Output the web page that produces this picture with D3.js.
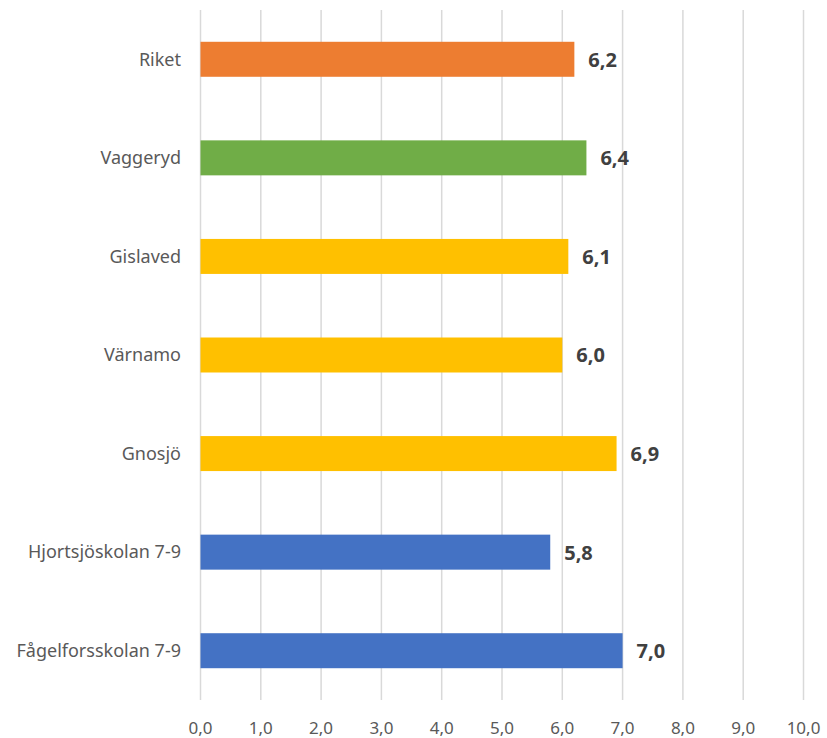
<!DOCTYPE html>
<html>
<head>
<meta charset="utf-8">
<script src="https://cdn.jsdelivr.net/npm/d3@7"></script>
<style>
  body { margin: 0; background: #fff; }
  text { font-family: "Noto Sans", "Open Sans", sans-serif; }
</style>
</head>
<body>
<svg id="chart" width="827" height="738"></svg>
<script>
const categories = ["Riket", "Vaggeryd", "Gislaved", "Värnamo", "Gnosjö", "Hjortsjöskolan 7-9", "Fågelforsskolan 7-9"];
const values = [6.2, 6.4, 6.1, 6.0, 6.9, 5.8, 7.0];
const barColors = ["#ed7d31", "#70ad47", "#ffc000", "#ffc000", "#ffc000", "#4472c4", "#4472c4"];
const ticks = [0, 1, 2, 3, 4, 5, 6, 7, 8, 9, 10];

const svg = d3.select("#chart");
const fmt = v => d3.format(".1f")(v).replace(".", ",");

const x = d3.scaleLinear().domain([0, 10]).range([200.5, 803.5]);
const y = d3.scaleBand().domain(categories).range([10, 700]).paddingInner(0.645).paddingOuter(0.3225);

// gridlines
svg.append("g").selectAll("line")
    .data(ticks)
    .enter()
    .append("line")
    .attr("x1", d => x(d))
    .attr("x2", d => x(d))
    .attr("y1", 10)
    .attr("y2", 700)
    .attr("stroke", "#d9d9d9")
    .attr("stroke-width", 1.5);

// x tick labels
svg.append("g").selectAll("text")
    .data(ticks)
    .enter()
    .append("text")
    .attr("x", d => x(d))
    .attr("y", 734)
    .attr("text-anchor", "middle")
    .attr("font-size", 17)
    .attr("fill", "#595959")
    .text(d => fmt(d));

// bars
svg.append("g").selectAll("rect")
    .data(categories)
    .enter()
    .append("rect")
    .attr("x", x(0))
    .attr("y", d => y(d))
    .attr("width", (d, i) => x(values[i]) - x(0))
    .attr("height", y.bandwidth())
    .attr("fill", (d, i) => barColors[i]);

// category labels
svg.append("g").selectAll("text")
    .data(categories)
    .enter()
    .append("text")
    .attr("x", 181)
    .attr("y", d => y(d) + y.bandwidth() / 2)
    .attr("dy", "0.35em")
    .attr("text-anchor", "end")
    .attr("font-size", 18)
    .attr("fill", "#595959")
    .text(d => d);

// value labels
svg.append("g").selectAll("text")
    .data(categories)
    .enter()
    .append("text")
    .attr("x", (d, i) => x(values[i]) + 14)
    .attr("y", d => y(d) + y.bandwidth() / 2)
    .attr("dy", "0.37em")
    .attr("font-size", 20)
    .attr("font-weight", "bold")
    .attr("fill", "#404040")
    .text((d, i) => fmt(values[i]));
</script>
</body>
</html>
